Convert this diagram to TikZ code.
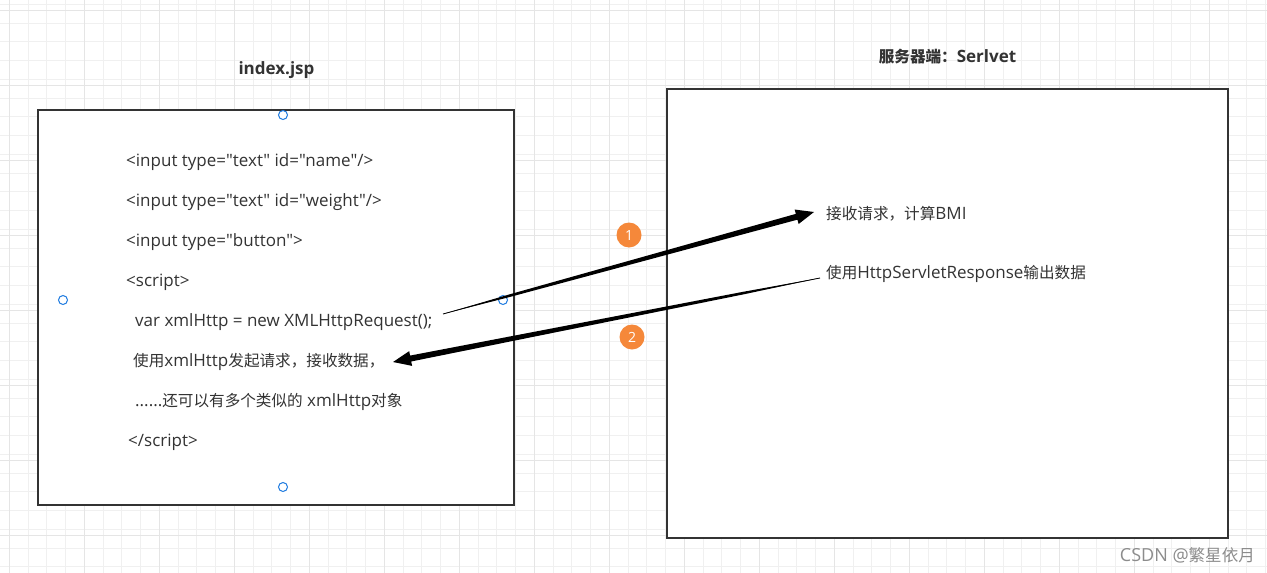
\documentclass[tikz,border=0pt]{standalone}
\usepackage{fontspec}
\setmainfont{Open Sans}[Ligatures=TeXOff]
\newfontfamily\cjk{Noto Sans CJK SC}[Ligatures=TeXOff,Scale=0.918]
\usepackage{tikz}
\usetikzlibrary{calc,positioning}
\definecolor{ink}{HTML}{333333}
\definecolor{badge}{HTML}{F5883A}
\definecolor{handle}{HTML}{1E7BE0}
\tikzstyle{gridminor}=[draw=black!6,line width=1pt]
\tikzstyle{gridmajor}=[draw=black!10,line width=1pt]
\tikzstyle{panel}=[draw=ink,line width=2.4pt,fill=white,inner sep=0pt]
\tikzstyle{code}=[anchor=west,text=ink,inner sep=0pt,font=\fontsize{17}{19}\selectfont]
\tikzstyle{title}=[text=ink,inner sep=0pt,font=\fontsize{17}{19}\selectfont\bfseries]
\tikzstyle{badge}=[circle,fill=badge,minimum size=25pt,inner sep=0pt,text=white,font=\fontsize{14}{14}\selectfont]
\tikzstyle{handle}=[circle,draw=handle,fill=white,line width=1pt,minimum size=9pt,inner sep=0pt]
% tapered arrow: thin at the start, thick at the tip
\newcommand{\taperarrow}[2]{%
  \path ($(#2)!18pt!(#1)$) coordinate (head) ($(#1)!0.18!(#2)$) coordinate (knee);
  \fill[black] (#1) -- ($(knee)!1.3pt!90:(#2)$) -- ($(head)!3pt!90:(#2)$) -- ($(head)!7.5pt!90:(#2)$) -- (#2)
     -- ($(head)!7.5pt!-90:(#2)$) -- ($(head)!3pt!-90:(#2)$) -- ($(knee)!1.3pt!-90:(#2)$) -- cycle;
  \draw[black,line width=0.8pt] (#1) -- (knee);}

\begin{document}
\begin{tikzpicture}[x=1pt,y=-1pt]
  \useasboundingbox (0,0) rectangle (1267,573);
  \fill[white] (0,0) rectangle (1267,573);
  % background grid
  \foreach \k in {0,...,67}
    \draw[gridminor] ({9.3+18.75*\k},0) -- ({9.3+18.75*\k},573);
  \foreach \k in {0,...,30}
    \draw[gridminor] (0,{4.45+18.75*\k}) -- (1267,{4.45+18.75*\k});
  \foreach \k in {0,...,16}
    \draw[gridmajor] ({9.3+75*\k},0) -- ({9.3+75*\k},573);
  \foreach \k in {0,...,7}
    \draw[gridmajor] (0,{10.7+75*\k}) -- (1267,{10.7+75*\k});

  % the two boxes
  \node[panel,minimum width=476pt,minimum height=395pt] (page) at (276,307.5) {};
  \node[panel,minimum width=561pt,minimum height=449pt] (server) at (947.5,313.5) {};
  \node[title] (jsp) at (276.5,70) {index.jsp};
  \node[title] (servlet) at (947.5,57) {{\cjk 服务器端：}Serlvet};

  % page contents
  \node[code] (l1) at (126,162) {<input type="text" id="name"/>};
  \node[code] (l2) at (126,202) {<input type="text" id="weight"/>};
  \node[code] (l3) at (126,242) {<input type="button">};
  \node[code] (l4) at (126,282) {<script>};
  \node[code] (l5) at (135,322) {var xmlHttp = new XMLHttpRequest();};
  \node[code] (l6) at (133,361.5) {{\cjk 使用}xmlHttp{\cjk 发起请求，接收数据，}};
  \node[code] (l7) at (135,402) {......{\cjk 还可以有多个类似的} xmlHttp{\cjk 对象}};
  \node[code] (l8) at (128,442) {</script>};

  % server contents
  \node[code] (recv) at (826,214) {{\cjk 接收请求，计算}BMI};
  \node[code] (resp) at (826,274) {{\cjk 使用}HttpServletResponse{\cjk 输出数据}};

  % selection handles
  \node[handle] (hn) at (283,115) {};
  \node[handle] (hw) at (63,300) {};
  \node[handle] (he) at (503,300) {};
  \node[handle] (hs) at (283,487) {};

  % request / response
  \coordinate (reqfrom) at (443,314);
  \coordinate (reqto) at ($(recv.west)+(-12,-2)$);
  \coordinate (respfrom) at ($(resp.west)+(-6,4)$);
  \coordinate (respto) at (393,362);
  \taperarrow{reqfrom}{reqto}
  \taperarrow{respfrom}{respto}
  \node[badge] (b1) at (629,235) {1};
  \node[badge] (b2) at (632,337) {2};

  \node[anchor=east,text=black!45,inner sep=0pt,font=\fontsize{18}{20}\selectfont] (mark) at (1255,555) {CSDN @{\cjk 繁星依月}};
\end{tikzpicture}
\end{document}
